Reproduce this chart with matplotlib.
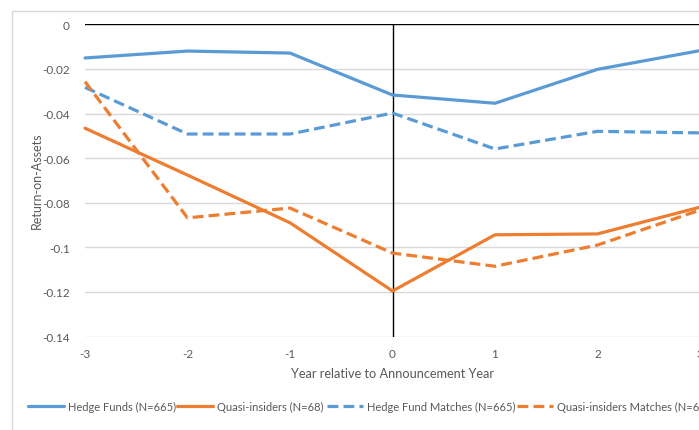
import matplotlib
matplotlib.use("Agg")
import matplotlib.pyplot as plt
from matplotlib.patches import Rectangle

# --- data ---
years = [-3, -2, -1, 0, 1, 2, 3]
hedge_funds = [-0.0151, -0.0120, -0.0129, -0.0317, -0.0354, -0.0202, -0.0118]
quasi_insiders = [-0.0466, -0.0676, -0.0890, -0.1196, -0.0944, -0.0940, -0.0820]
hf_matches = [-0.0283, -0.0492, -0.0492, -0.0398, -0.0559, -0.0480, -0.0487]
qi_matches = [-0.0257, -0.0868, -0.0824, -0.1026, -0.1085, -0.0990, -0.0833]

y_ticks = [0, -0.02, -0.04, -0.06, -0.08, -0.1, -0.12, -0.14]
y_labels = ["0", "-0.02", "-0.04", "-0.06", "-0.08", "-0.1", "-0.12", "-0.14"]

BLUE = "#5B9BD5"
ORANGE = "#ED7D31"
GRID = "#D9D9D9"
TXT = "#595959"

plt.rcParams["font.family"] = ["Lato", "DejaVu Sans"]
plt.rcParams["font.size"] = 8.5

W, H = 699, 431
fig = plt.figure(figsize=(W / 100, H / 100), dpi=100)

# chart area border (cut off at right/bottom like the original screenshot)
fig.patches.append(Rectangle((12 / W, -0.1), 1.2, (H - 12) / H + 0.1,
                             transform=fig.transFigure, fill=False,
                             edgecolor=GRID, lw=1.0))

ax = fig.add_axes([85 / W, (H - 337.5) / H, 615 / W, 312.2 / H])
ax.set_xlim(-3, 3)
ax.set_ylim(-0.14, 0)

for y in y_ticks[1:]:
    ax.axhline(y, color=GRID, lw=1.0, zorder=0)
ax.axhline(0, color="black", lw=1.0, zorder=1)
ax.axvline(0, color="black", lw=1.0, zorder=1)

lw = 2.3
dash = (3.4, 1.6)
l1, = ax.plot(years, hedge_funds, color=BLUE, lw=lw, label="Hedge Funds (N=665)", zorder=3)
l2, = ax.plot(years, quasi_insiders, color=ORANGE, lw=lw, label="Quasi-insiders (N=68)", zorder=3)
l3, = ax.plot(years, hf_matches, color=BLUE, lw=lw, dashes=dash,
              label="Hedge Fund Matches (N=665)", zorder=3)
l4, = ax.plot(years, qi_matches, color=ORANGE, lw=lw, dashes=dash,
              label="Quasi-insiders Matches (N=68)", zorder=3)
for l in (l1, l2, l3, l4):
    l.set_clip_on(False)
    l.set_solid_capstyle("round")

for s in ax.spines.values():
    s.set_visible(False)

ax.set_xticks(years)
ax.set_xticklabels([str(y) for y in years])
ax.set_yticks(y_ticks)
ax.set_yticklabels(y_labels)
ax.tick_params(length=0, colors=TXT, labelsize=8.5)
ax.tick_params(axis="y", pad=11)
ax.tick_params(axis="x", pad=8)

ax.set_xlabel("Year relative to Announcement Year", color=TXT, fontsize=9.2, labelpad=6)
fig.text(37 / W, 1 - 181 / H, "Return-on-Assets", rotation=90, color=TXT,
         fontsize=9, ha="center", va="center")

# one legend per entry so each sits where the reference puts it
legend_x = [28, 177, 327, 517]
for handle, x in zip([l1, l2, l3, l4], legend_x):
    leg = fig.legend(handles=[handle], loc="center left",
                     bbox_to_anchor=(x / W, 1 - 407 / H), frameon=False,
                     handlelength=3.2, handletextpad=0.4,
                     fontsize=8.0, borderaxespad=0, borderpad=0)
    for t in leg.get_texts():
        t.set_color(TXT)

fig.savefig("out.png", dpi=100)
